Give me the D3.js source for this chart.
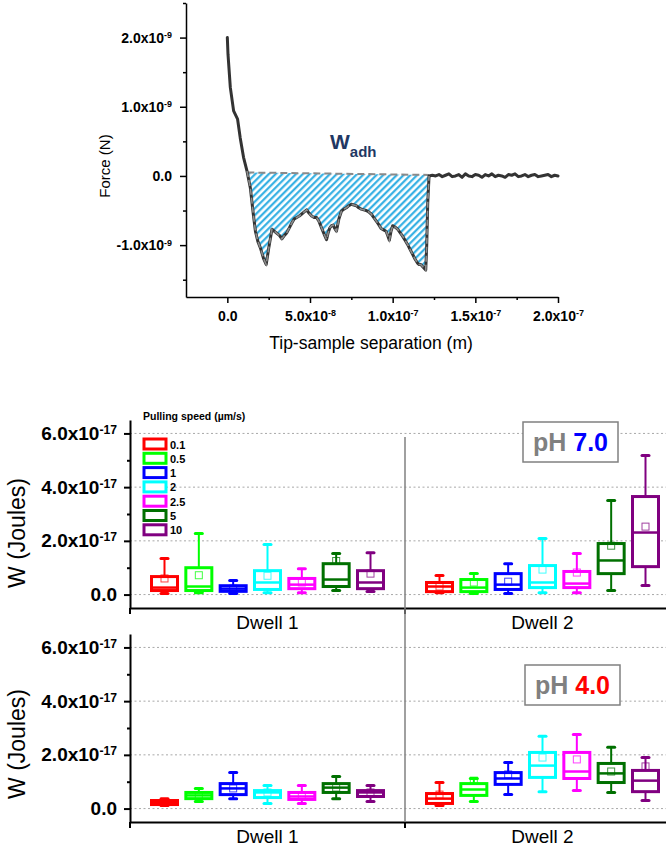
<!DOCTYPE html>
<html>
<head>
<meta charset="utf-8">
<script src="https://cdn.jsdelivr.net/npm/d3@7"></script>
<style>
  body { margin: 0; background: #fff; }
  svg { display: block; font-family: Arial, "Liberation Sans", sans-serif; }
</style>
</head>
<body>
<script>
'use strict';

// ---- force curve (separation in nm, force in nN) ----
const sepNm = [0, 0.4, 1.8, 3.8, 6.2, 7.8, 9.8, 11.9, 13.9, 15.7, 17, 18.5, 20, 22, 23.5, 25, 27, 28.5, 30,
  31.5, 33, 34.5, 36, 37.5, 39, 40.5, 42, 43.5, 45, 46.5, 48, 49.5, 51, 52.5, 54, 55.5, 57, 58.5, 60, 61,
  62, 63, 64, 65, 66, 67.5, 69, 70.5, 72, 73.5, 75, 76.5, 78, 79.5, 81, 82.5, 84, 85.5, 87, 88.5, 90, 91.5,
  93, 94.5, 96, 97, 98, 99, 100, 101.5, 103, 104.5, 106, 107.5, 109, 110.5, 112, 113.5, 115, 116, 117,
  118.5, 120, 120.6, 121.2, 122, 124, 126, 128, 130, 132, 134, 136, 138, 140, 142, 144, 146, 148, 150,
  152, 154, 156, 158, 160, 162, 164, 166, 168, 170, 172, 174, 176, 178, 180, 182, 184, 186, 188, 190,
  192, 194, 196, 198, 200];
const forceNn = [2.0, 1.76, 1.28, 0.94, 0.82, 0.55, 0.27, 0.07, -0.17, -0.55, -0.8, -0.95, -1.04, -1.2, -1.28,
  -1.05, -0.77, -0.8, -0.83, -0.86, -0.91, -0.86, -0.82, -0.75, -0.68, -0.62, -0.6, -0.58, -0.55, -0.52,
  -0.49, -0.54, -0.58, -0.6, -0.6, -0.66, -0.75, -0.84, -0.92, -0.82, -0.75, -0.72, -0.71, -0.76, -0.8,
  -0.62, -0.51, -0.48, -0.46, -0.43, -0.41, -0.42, -0.43, -0.46, -0.48, -0.49, -0.5, -0.52, -0.55, -0.6,
  -0.65, -0.7, -0.76, -0.78, -0.8, -0.86, -0.93, -0.8, -0.72, -0.74, -0.77, -0.82, -0.87, -0.93, -0.99,
  -1.06, -1.13, -1.2, -1.26, -1.28, -1.28, -1.32, -1.36, -1.0, -0.4, 0.0, 0.01, 0.0, 0.02, -0.01, 0.01,
  0.03, -0.01, 0.0, 0.02, -0.02, 0.03, 0.0, -0.01, 0.02, 0.01, -0.02, 0.02, 0.0, 0.03, -0.01, 0.01, 0.0,
  -0.02, 0.02, 0.01, 0.03, -0.01, 0.0, 0.02, -0.01, 0.01, 0.02, -0.01, 0.0, 0.01, 0.02, -0.01, 0.01, 0.0];
// dashed baseline of the adhesion area [sep, force]
const adhBaseline = [[12.1, 0.05], [122, 0.015]];
const sepTicks = [0, 50, 100, 150, 200];
const sepMinor = [25, 75, 125, 175];
const forceTicks = [-1, 0, 1, 2];
const forceMinor = [-1.5, -0.5, 0.5, 1.5, 2.5];

// ---- adhesion work box plots, units of 1e-17 J ----
// each entry: [whisker low, q1, median, q3, whisker high, mean]
const speeds = ["0.1", "0.5", "1", "2", "2.5", "5", "10"];
const speedColors = ["#ff0000", "#00ff00", "#0000ff", "#00ffff", "#ff00ff", "#007000", "#800080"];
const dwells = ["Dwell 1", "Dwell 2"];
const ph7Dwell1 = [[0.04, 0.15, 0.26, 0.67, 1.34, 0.6], [0.07, 0.15, 0.3, 1.0, 2.27, 0.72],
  [0.04, 0.12, 0.22, 0.33, 0.52, 0.22], [0.07, 0.19, 0.45, 0.89, 1.86, 0.7],
  [0.07, 0.22, 0.37, 0.6, 0.96, 0.45], [0.15, 0.3, 0.56, 1.15, 1.53, 1.25],
  [0.11, 0.22, 0.45, 0.89, 1.56, 0.78]];
const ph7Dwell2 = [[0.07, 0.11, 0.3, 0.45, 0.71, 0.3], [0.04, 0.11, 0.26, 0.56, 0.78, 0.45],
  [0.04, 0.19, 0.37, 0.78, 1.15, 0.48], [0.07, 0.26, 0.45, 1.08, 2.09, 0.93],
  [0.07, 0.26, 0.41, 0.86, 1.53, 0.82], [0.15, 0.78, 1.27, 1.9, 3.5, 1.82],
  [0.34, 1.04, 2.31, 3.65, 5.18, 2.53]];
const ph4Dwell1 = [[0.11, 0.15, 0.22, 0.3, 0.37, 0.22], [0.26, 0.37, 0.49, 0.6, 0.75, 0.49],
  [0.37, 0.52, 0.75, 0.93, 1.34, 0.75], [0.19, 0.41, 0.6, 0.67, 0.86, 0.6],
  [0.19, 0.34, 0.45, 0.6, 0.86, 0.45], [0.37, 0.6, 0.78, 0.93, 1.19, 0.78],
  [0.26, 0.45, 0.6, 0.67, 0.86, 0.6]];
const ph4Dwell2 = [[0.11, 0.19, 0.37, 0.56, 0.97, 0.52], [0.26, 0.49, 0.71, 0.93, 1.12, 1.04],
  [0.52, 0.9, 1.12, 1.34, 1.72, 1.27], [0.63, 1.16, 1.6, 2.09, 2.69, 1.9],
  [0.67, 1.12, 1.38, 2.09, 2.76, 1.83], [0.6, 0.97, 1.31, 1.68, 2.28, 1.38],
  [0.3, 0.63, 1.04, 1.42, 1.9, 1.57]];
const wTicks = [0, 2, 4, 6];
const wMinor = [1, 3, 5];

const width = 666, height = 848;

const svg = d3.select('body').append('svg')
  .attr('width', width)
  .attr('height', height);

// write tick labels like 2.0x10^-9 with a real superscript
function sciLabels(g, unitExp) {
  g.selectAll('.tick text').each(function(d) {
    const t = d3.select(this).text(null);
    if (d === 0) { t.text('0.0'); return; }
    const p = Math.floor(Math.log10(Math.abs(d)) + 1e-9);
    const m = d / Math.pow(10, p);
    t.append('tspan').text(m.toFixed(1) + 'x10');
    t.append('tspan').attr('dy', '-0.5em').attr('font-size', '0.64em').text(p + unitExp);
  });
}

function styleAxis(g, w) {
  g.select('.domain').attr('stroke', '#000').attr('stroke-width', w);
  g.selectAll('.tick line').attr('stroke', '#000').attr('stroke-width', w);
}

// ================= force curve =================
function drawForceCurve() {
  const x = d3.scaleLinear().domain([-25, 200]).range([186, 558]);
  const y = d3.scaleLinear().domain([-1.75, 2.5]).range([297, 3]);

  const pts = sepNm.map((s, i) => [s, forceNn[i]]);

  // hatch pattern
  const pat = svg.append('defs').append('pattern')
    .attr('id', 'hatch')
    .attr('patternUnits', 'userSpaceOnUse')
    .attr('width', 4.8).attr('height', 4.8)
    .attr('patternTransform', 'rotate(45)');
  pat.append('line')
    .attr('x1', 1.2).attr('y1', 0).attr('x2', 1.2).attr('y2', 4.8)
    .attr('stroke', '#29abe2').attr('stroke-width', 2.1);

  const line = d3.line().x(d => x(d[0])).y(d => y(d[1]));

  const region = pts.filter(d => d[0] >= adhBaseline[0][0] - 0.3 && d[0] <= adhBaseline[1][0]);
  const poly = region.concat([adhBaseline[1], adhBaseline[0]]);
  svg.append('path')
    .attr('d', line(poly) + 'Z')
    .attr('fill', 'url(#hatch)');

  svg.append('path')
    .datum(adhBaseline)
    .attr('d', line)
    .attr('fill', 'none')
    .attr('stroke', '#8a8a8a')
    .attr('stroke-width', 2)
    .attr('stroke-dasharray', '7,4');

  svg.append('path')
    .datum(pts)
    .attr('d', line)
    .attr('fill', 'none')
    .attr('stroke', '#333')
    .attr('stroke-width', 3)
    .attr('stroke-linejoin', 'round')
    .attr('stroke-linecap', 'round');

  // grey dashed edge over the curve inside the area
  svg.append('path')
    .datum(region)
    .attr('d', line)
    .attr('fill', 'none')
    .attr('stroke', '#8c8c8c')
    .attr('stroke-width', 1.6)
    .attr('stroke-dasharray', '6,3');

  // axes
  const gx = svg.append('g')
    .attr('transform', 'translate(0,297)')
    .call(d3.axisBottom(x).tickValues(sepTicks).tickSize(6).tickSizeOuter(0).tickPadding(8))
    .attr('font-size', 14).attr('font-weight', 'bold').attr('font-family', null);
  gx.call(sciLabels, -9);
  styleAxis(gx, 1.5);
  const gxm = svg.append('g')
    .attr('transform', 'translate(0,297)')
    .call(d3.axisBottom(x).tickValues(sepMinor).tickSize(3).tickFormat(''));
  gxm.select('.domain').remove();
  styleAxis(gxm, 1.5);

  const gy = svg.append('g')
    .attr('transform', 'translate(186,0)')
    .call(d3.axisLeft(y).tickValues(forceTicks).tickSize(6).tickSizeOuter(0).tickPadding(8))
    .attr('font-size', 14).attr('font-weight', 'bold').attr('font-family', null);
  gy.call(sciLabels, -9);
  styleAxis(gy, 1.5);
  const gym = svg.append('g')
    .attr('transform', 'translate(186,0)')
    .call(d3.axisLeft(y).tickValues(forceMinor).tickSize(3).tickFormat(''));
  gym.select('.domain').remove();
  styleAxis(gym, 1.5);

  svg.append('text')
    .attr('transform', 'translate(110,166)rotate(-90)')
    .attr('text-anchor', 'middle')
    .style('font-size', '15px')
    .text('Force (N)');

  svg.append('text')
    .attr('x', 371).attr('y', 349)
    .attr('text-anchor', 'middle')
    .style('font-size', '17.5px')
    .text('Tip-sample separation (m)');

  const wl = svg.append('text')
    .attr('x', 330).attr('y', 149)
    .attr('fill', '#1f3864')
    .attr('font-weight', 'bold')
    .style('font-size', '21px');
  wl.append('tspan').text('W');
  wl.append('tspan').attr('dy', 8).style('font-size', '15px').text('adh');
}

// ================= box plot panels =================
const dwellX = d3.scaleBand().domain(dwells).range([130, 680]);
const speedX = d3.scalePoint().domain(speeds).range([-103, 103]);

function drawPanel(opts) {
  const y = d3.scaleLinear().domain([-0.5, 6.5]).range(opts.range);
  const x0 = dwellX.range()[0];
  const axisY = opts.range[0];

  // dotted grid
  svg.append('g').selectAll('line')
    .data(wTicks)
    .enter()
    .append('line')
      .attr('x1', x0).attr('x2', width)
      .attr('y1', d => y(d)).attr('y2', d => y(d))
      .attr('stroke', '#a8a8a8')
      .attr('stroke-width', 1)
      .attr('stroke-dasharray', '2,2.5');

  // boxes
  dwells.forEach((dw, di) => {
    const stats = opts.data[di];
    const cx0 = dwellX(dw) + dwellX.bandwidth() / 2;
    speeds.forEach((s, i) => {
      const st = stats[i];
      const c = speedColors[i];
      const cx = cx0 + speedX(s);
      const g = svg.append('g');
      g.append('line')
        .attr('x1', cx).attr('x2', cx)
        .attr('y1', y(st[0])).attr('y2', y(st[4]))
        .attr('stroke', c).attr('stroke-width', 2);
      [st[0], st[4]].forEach(v => {
        g.append('line')
          .attr('x1', cx - 3.5).attr('x2', cx + 3.5)
          .attr('y1', y(v)).attr('y2', y(v))
          .attr('stroke', c).attr('stroke-width', 3)
          .attr('stroke-linecap', 'round');
      });
      g.append('rect')
        .attr('x', cx - 13).attr('width', 26)
        .attr('y', y(st[3])).attr('height', y(st[1]) - y(st[3]))
        .attr('fill', '#fff')
        .attr('stroke', c).attr('stroke-width', 3);
      g.append('line')
        .attr('x1', cx - 13).attr('x2', cx + 13)
        .attr('y1', y(st[2])).attr('y2', y(st[2]))
        .attr('stroke', c).attr('stroke-width', 2.5);
      g.append('rect')
        .attr('x', cx - 3.5).attr('y', y(st[5]) - 3.5)
        .attr('width', 7).attr('height', 7)
        .attr('fill', 'none')
        .attr('stroke', c).attr('stroke-width', 1)
        .attr('stroke-opacity', 0.75);
    });
  });

  // axes
  const gy = svg.append('g')
    .attr('transform', `translate(${x0},0)`)
    .call(d3.axisLeft(y).tickValues(wTicks).tickSize(6).tickSizeOuter(0).tickPadding(7))
    .attr('font-size', 19).attr('font-weight', 'bold').attr('font-family', null);
  gy.call(sciLabels, -17);
  styleAxis(gy, 2);
  const gym = svg.append('g')
    .attr('transform', `translate(${x0},0)`)
    .call(d3.axisLeft(y).tickValues(wMinor).tickSize(3).tickFormat(''));
  gym.select('.domain').remove();
  styleAxis(gym, 2);

  const gx = svg.append('g')
    .attr('transform', `translate(0,${axisY})`)
    .call(d3.axisBottom(dwellX).tickSize(0).tickSizeOuter(0).tickPadding(8))
    .attr('font-size', 19).attr('font-family', null);
  styleAxis(gx, 2);
  gx.selectAll('.tick line').remove();
  gx.selectAll('.edge')
    .data(dwells)
    .enter()
    .append('line')
      .attr('x1', d => dwellX(d)).attr('x2', d => dwellX(d))
      .attr('y1', 0).attr('y2', 6)
      .attr('stroke', '#000').attr('stroke-width', 2);

  svg.append('text')
    .attr('transform', `translate(25,${opts.titleY})rotate(-90)`)
    .attr('text-anchor', 'middle')
    .style('font-size', '23px')
    .text('W (Joules)');

  // pH tag
  const b = opts.tag;
  svg.append('rect')
    .attr('x', b.x).attr('y', b.y).attr('width', 95).attr('height', 40)
    .attr('fill', '#fff')
    .attr('stroke', '#808080').attr('stroke-width', 1.5);
  const t = svg.append('text')
    .attr('x', b.x + 47.5).attr('y', b.y + 29)
    .attr('text-anchor', 'middle')
    .attr('font-weight', 'bold')
    .style('font-size', '25px');
  t.append('tspan').attr('fill', '#808080').text('pH ');
  t.append('tspan').attr('fill', b.color).text(b.label);
}

function drawLegend() {
  svg.append('text')
    .attr('x', 143).attr('y', 420)
    .attr('font-weight', 'bold')
    .style('font-size', '10.5px')
    .text('Pulling speed (\u00b5m/s)');

  const items = svg.append('g').selectAll('g')
    .data(speeds)
    .enter()
    .append('g')
      .attr('transform', (d, i) => `translate(144,${444 + i * 14.3})`);
  items.append('rect')
    .attr('x', 0).attr('y', -5).attr('width', 22).attr('height', 10)
    .attr('fill', '#fff')
    .attr('stroke', (d, i) => speedColors[i])
    .attr('stroke-width', 3);
  items.append('text')
    .attr('x', 26).attr('y', 4.5)
    .attr('font-weight', 'bold')
    .style('font-size', '11px')
    .text(d => d);
}

drawForceCurve();

drawPanel({
  range: [608, 420],
  data: [ph7Dwell1, ph7Dwell2],
  titleY: 533,
  tag: { x: 523, y: 422, color: '#0000ff', label: '7.0' }
});
drawPanel({
  range: [822, 634],
  data: [ph4Dwell1, ph4Dwell2],
  titleY: 744,
  tag: { x: 525, y: 665, color: '#ff0000', label: '4.0' }
});
drawLegend();

// separator between dwell groups
svg.append('line')
  .attr('x1', dwellX('Dwell 2')).attr('x2', dwellX('Dwell 2'))
  .attr('y1', 437).attr('y2', 822)
  .attr('stroke', '#808080')
  .attr('stroke-width', 1.5);
</script>
</body>
</html>
